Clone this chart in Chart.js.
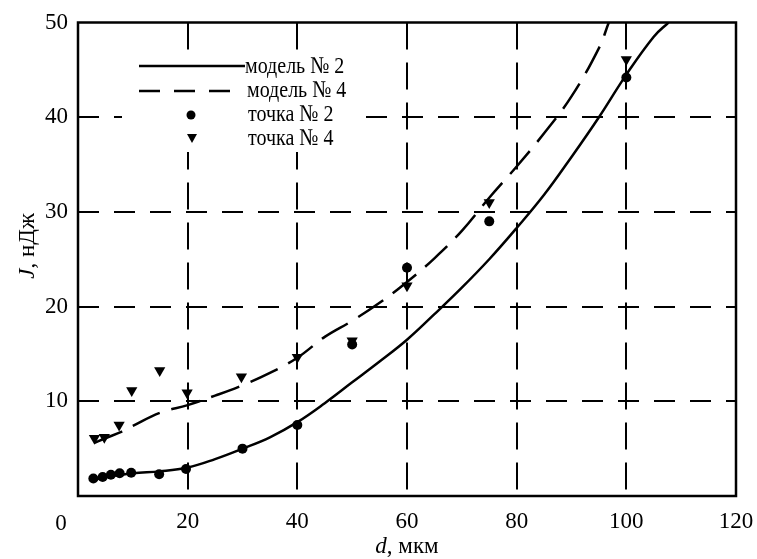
<!DOCTYPE html>
<html>
<head>
<meta charset="utf-8">
<script src="https://cdn.jsdelivr.net/npm/chart.js@4/dist/chart.umd.min.js"></script>
<style>
  html, body { margin: 0; padding: 0; background: #fff; }
  canvas { display: block; }
</style>
</head>
<body>
<canvas id="chart" width="757" height="559"></canvas>
<script>
// модель № 2 (solid)
const model2D = [3, 5, 10, 15, 20, 25, 30, 35, 40, 45, 50, 55, 60, 65, 70, 75, 80, 85, 90, 95, 100, 105, 107.7];
const model2J = [1.7, 2.0, 2.4, 2.6, 3.0, 3.9, 5.0, 6.2, 7.8, 9.8, 12.0, 14.2, 16.5, 19.2, 22.0, 25.0, 28.3, 31.8, 35.8, 40.0, 44.5, 48.5, 50];

// модель № 4 (dashed)
const model4D = [3, 5, 8, 10, 15, 20, 25, 30, 35, 40, 45, 50, 55, 60, 65, 70, 75, 80, 85, 90, 95, 96.8];
const model4J = [5.6, 6.1, 6.8, 7.4, 8.8, 9.6, 10.6, 11.7, 13.0, 14.6, 16.8, 18.5, 20.4, 22.6, 25.1, 28.0, 31.5, 34.8, 38.3, 42.2, 47.3, 50];

// точка № 2 (circles)
const point2D = [2.8, 4.5, 6, 7.6, 9.7, 14.8, 19.7, 30, 40, 50, 60, 75, 100];
const point2J = [1.85, 2.0, 2.25, 2.4, 2.45, 2.3, 2.85, 5.0, 7.5, 16.0, 24.1, 29.0, 44.2];

// точка № 4 (triangles)
const point4D = [3, 4.8, 7.5, 9.8, 14.9, 19.9, 29.8, 40, 50, 60, 75, 100];
const point4J = [6.1, 6.2, 7.5, 11.15, 13.25, 10.9, 12.6, 14.65, 16.4, 22.2, 31.0, 46.1];

const xTicks = [0, 20, 40, 60, 80, 100, 120];
const yTicks = [10, 20, 30, 40, 50];

const FONT = '"Liberation Serif", "Times New Roman", serif';

function pts(xs, ys){
    return xs.map((x, i) => ({x: x, y: ys[i]}));
}

function legendText(ctx, s, x, y){
    ctx.save();
    ctx.translate(x, y);
    ctx.scale(1, 1.2);
    ctx.fillText(s, 0, 0);
    ctx.restore();
}

const extras = {
    id: "extras",
    beforeDatasetsDraw(chart){
        // white box behind the legend hides the grid there
        const ctx = chart.ctx;
        ctx.save();
        ctx.fillStyle = "#fff";
        ctx.fillRect(122, 50, 230, 102);
        ctx.restore();
    },
    afterDraw(chart){
        const ctx = chart.ctx;
        const a = chart.chartArea;
        const sx = chart.scales.x;
        ctx.save();

        // frame
        ctx.strokeStyle = "#000";
        ctx.lineWidth = 2.5;
        ctx.setLineDash([]);
        ctx.strokeRect(a.left, a.top, a.right - a.left, a.bottom - a.top);

        ctx.fillStyle = "#000";

        // "0" label sits left of the axis in the original
        ctx.font = "23px " + FONT;
        ctx.textAlign = "center";
        ctx.textBaseline = "alphabetic";
        ctx.fillText("0", sx.getPixelForValue(0) - 17, 530);

        // x title
        ctx.textAlign = "left";
        ctx.font = "italic 23px " + FONT;
        const wd = ctx.measureText("d").width;
        ctx.font = "23px " + FONT;
        const wr = ctx.measureText(", мкм").width;
        let tx = (a.left + a.right) / 2 - (wd + wr) / 2;
        ctx.font = "italic 23px " + FONT;
        ctx.fillText("d", tx, 553);
        ctx.font = "23px " + FONT;
        ctx.fillText(", мкм", tx + wd, 553);

        // y title
        ctx.save();
        ctx.translate(34, 246);
        ctx.rotate(-Math.PI / 2);
        ctx.font = "italic 23px " + FONT;
        const wj = ctx.measureText("J").width;
        ctx.font = "23px " + FONT;
        const wn = ctx.measureText(", нДж").width;
        let ty = -(wj + wn) / 2;
        ctx.font = "italic 23px " + FONT;
        ctx.fillText("J", ty, 0);
        ctx.font = "23px " + FONT;
        ctx.fillText(", нДж", ty + wj, 0);
        ctx.restore();

        // legend
        ctx.font = "20px " + FONT;
        ctx.lineWidth = 2.5;
        ctx.beginPath();
        ctx.moveTo(139, 66);
        ctx.lineTo(245, 66);
        ctx.stroke();
        legendText(ctx, "модель № 2", 245, 73);

        ctx.setLineDash([21, 14]);
        ctx.beginPath();
        ctx.moveTo(139, 91);
        ctx.lineTo(231, 91);
        ctx.stroke();
        ctx.setLineDash([]);
        legendText(ctx, "модель № 4", 247, 97);

        ctx.beginPath();
        ctx.arc(191, 115, 4.5, 0, Math.PI * 2);
        ctx.fill();
        legendText(ctx, "точка № 2", 248, 121);

        ctx.beginPath();
        ctx.moveTo(187, 134);
        ctx.lineTo(197, 134);
        ctx.lineTo(192, 143);
        ctx.closePath();
        ctx.fill();
        legendText(ctx, "точка № 4", 248, 145);

        ctx.restore();
    }
};

new Chart(document.getElementById("chart"), {
    type: "scatter",
    data: {
        datasets: [
            {
                label: "модель № 2",
                data: pts(model2D, model2J),
                showLine: true,
                borderColor: "#000",
                borderWidth: 2.5,
                pointRadius: 0,
                tension: 0.4
            },
            {
                label: "модель № 4",
                data: pts(model4D, model4J),
                showLine: true,
                borderColor: "#000",
                borderWidth: 2.5,
                borderDash: [30, 12],
                pointRadius: 0,
                tension: 0.4
            },
            {
                label: "точка № 2",
                data: pts(point2D, point2J),
                pointStyle: "circle",
                pointRadius: 5,
                backgroundColor: "#000",
                borderColor: "#000",
                borderWidth: 0
            },
            {
                label: "точка № 4",
                data: pts(point4D, point4J),
                pointStyle: "triangle",
                pointRotation: 180,
                pointRadius: 6.5,
                backgroundColor: "#000",
                borderColor: "#000",
                borderWidth: 0
            }
        ]
    },
    options: {
        responsive: false,
        animation: false,
        layout: {
            padding: {top: 22.5, right: 21, left: 0, bottom: 0}
        },
        plugins: {
            legend: {display: false},
            tooltip: {enabled: false}
        },
        scales: {
            x: {
                type: "linear",
                min: 0,
                max: 120,
                afterFit(s){
                    s.height = 63;
                    s.paddingLeft = 0;
                    s.paddingRight = 0;
                },
                afterBuildTicks(s){ s.ticks = xTicks.map(v => ({value: v})); },
                ticks: {
                    color: "#000",
                    padding: 12,
                    font: {family: FONT, size: 23},
                    callback: v => v === 0 ? "" : v
                },
                grid: {
                    drawTicks: false,
                    color: c => (c.tick && (c.tick.value === 0 || c.tick.value === 120)) ? "rgba(0,0,0,0)" : "#000",
                    lineWidth: 2
                },
                border: {display: false, dash: [27, 13]}
            },
            y: {
                type: "linear",
                min: 0,
                max: 50,
                afterFit(s){
                    s.width = 78;
                    s.paddingTop = 0;
                    s.paddingBottom = 0;
                },
                afterBuildTicks(s){ s.ticks = [0].concat(yTicks).map(v => ({value: v})); },
                ticks: {
                    color: "#000",
                    padding: 10,
                    font: {family: FONT, size: 23},
                    callback: v => v === 0 ? "" : v
                },
                grid: {
                    drawTicks: false,
                    color: c => (c.tick && (c.tick.value === 0 || c.tick.value === 50)) ? "rgba(0,0,0,0)" : "#000",
                    lineWidth: 2
                },
                border: {display: false, dash: [21, 15]}
            }
        }
    },
    plugins: [extras]
});
</script>
</body>
</html>
